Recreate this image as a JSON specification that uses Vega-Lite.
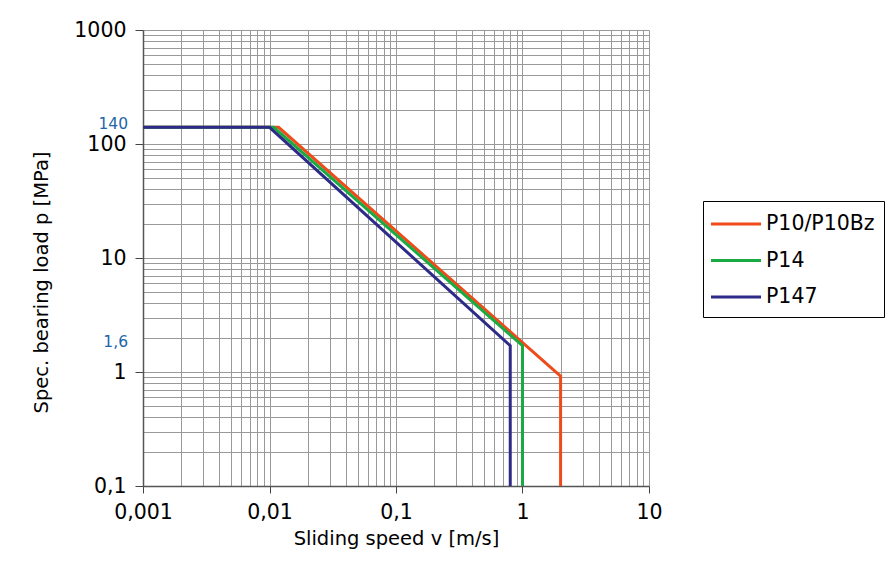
{
  "$schema": "https://vega.github.io/schema/vega-lite/v6.json",
  "width": 506,
  "height": 456,
  "autosize": "none",
  "padding": {"left": 143, "top": 30, "right": 240, "bottom": 81},
  "background": "white",
  "config": {
    "font": "DejaVu Sans",
    "view": {"stroke": null}
  },
  "datasets": {
    "lines": [
      {"series": "P10/P10Bz", "i": 0, "v": 0.001, "p": 140},
      {"series": "P10/P10Bz", "i": 1, "v": 0.0118, "p": 140},
      {"series": "P10/P10Bz", "i": 2, "v": 2, "p": 0.92},
      {"series": "P10/P10Bz", "i": 3, "v": 2, "p": 0.1},
      {"series": "P14", "i": 0, "v": 0.001, "p": 140},
      {"series": "P14", "i": 1, "v": 0.0108, "p": 140},
      {"series": "P14", "i": 2, "v": 1, "p": 1.7},
      {"series": "P14", "i": 3, "v": 1, "p": 0.1},
      {"series": "P147", "i": 0, "v": 0.001, "p": 140},
      {"series": "P147", "i": 1, "v": 0.01, "p": 140},
      {"series": "P147", "i": 2, "v": 0.8, "p": 1.7},
      {"series": "P147", "i": 3, "v": 0.8, "p": 0.1}
    ],
    "note140": [
      {"v": 0.001, "p": 140, "label": "140"}
    ],
    "note16": [
      {"v": 0.001, "p": 1.6, "label": "1,6"}
    ]
  },
  "layer": [
    {
      "data": {"name": "lines"},
      "mark": {"type": "line", "strokeWidth": 3, "strokeCap": "butt", "strokeJoin": "miter"},
      "encoding": {
        "x": {
          "field": "v",
          "type": "quantitative",
          "scale": {"type": "log", "domain": [0.001, 10], "nice": false},
          "axis": {
            "values": [0.001, 0.002, 0.003, 0.004, 0.005, 0.006, 0.007, 0.008, 0.009, 0.01, 0.02, 0.03, 0.04, 0.05, 0.06, 0.07, 0.08, 0.09, 0.1, 0.2, 0.3, 0.4, 0.5, 0.6, 0.7, 0.8, 0.9, 1, 2, 3, 4, 5, 6, 7, 8, 9, 10],
            "grid": true,
            "gridColor": "#999999",
            "gridWidth": 1,
            "labelExpr": "abs(log(datum.value)/LN10 - round(log(datum.value)/LN10)) < 0.001 ? replace(toString(datum.value), '.', ',') : ''",
            "labelOverlap": false,
            "labelFlush": false,
            "labelFontSize": 20.5,
            "labelColor": "black",
            "labelPadding": 9,
            "tickSize": 7,
            "tickColor": {"condition": {"test": "abs(log(datum.value)/LN10 - round(log(datum.value)/LN10)) < 0.001", "value": "#444444"}, "value": "transparent"},
            "domainColor": "#555555",
            "domainWidth": 1.5,
            "title": "Sliding speed v [m/s]",
            "titleFontSize": 19.5,
            "titleFontWeight": "normal",
            "titleColor": "black",
            "titlePadding": 7
          }
        },
        "y": {
          "field": "p",
          "type": "quantitative",
          "scale": {"type": "log", "domain": [0.1, 1000], "nice": false},
          "axis": {
            "values": [0.1, 0.2, 0.3, 0.4, 0.5, 0.6, 0.7, 0.8, 0.9, 1, 2, 3, 4, 5, 6, 7, 8, 9, 10, 20, 30, 40, 50, 60, 70, 80, 90, 100, 200, 300, 400, 500, 600, 700, 800, 900, 1000],
            "grid": true,
            "gridColor": "#999999",
            "gridWidth": 1,
            "labelExpr": "abs(log(datum.value)/LN10 - round(log(datum.value)/LN10)) < 0.001 ? replace(toString(datum.value), '.', ',') : ''",
            "labelOverlap": false,
            "labelFlush": false,
            "labelFontSize": 20.5,
            "labelColor": "black",
            "labelPadding": 9,
            "tickSize": 8,
            "tickColor": {"condition": {"test": "abs(log(datum.value)/LN10 - round(log(datum.value)/LN10)) < 0.001", "value": "#444444"}, "value": "transparent"},
            "domainColor": "#555555",
            "domainWidth": 1.5,
            "title": "Spec. bearing load p [MPa]",
            "titleFontSize": 19.5,
            "titleFontWeight": "normal",
            "titleColor": "black",
            "titlePadding": 22,
            "titleY": 252
          }
        },
        "color": {
          "field": "series",
          "type": "nominal",
          "scale": {"domain": ["P10/P10Bz", "P14", "P147"], "range": ["#ef4a19", "#19aa42", "#2e2b88"]},
          "legend": {
            "title": null,
            "orient": "none",
            "legendX": 560,
            "legendY": 171,
            "symbolType": "M-1.2,0H2.8",
            "symbolSize": 625,
            "symbolStrokeWidth": 3,
            "labelFontSize": 20.5,
            "labelColor": "black",
            "strokeColor": "black",
            "fillColor": "white",
            "padding": 9,
            "rowPadding": 11.5,
            "labelOffset": 26
          }
        },
        "order": {"field": "i", "type": "quantitative"}
      }
    },
    {
      "data": {"name": "note140"},
      "mark": {"type": "text", "align": "right", "baseline": "middle", "dx": -15, "dy": -3, "fontSize": 15.5, "color": "#2266a8"},
      "encoding": {
        "x": {"field": "v", "type": "quantitative"},
        "y": {"field": "p", "type": "quantitative"},
        "text": {"field": "label"}
      }
    },
    {
      "data": {"name": "note16"},
      "mark": {"type": "text", "align": "right", "baseline": "middle", "dx": -15, "dy": -7, "fontSize": 15.5, "color": "#2266a8"},
      "encoding": {
        "x": {"field": "v", "type": "quantitative"},
        "y": {"field": "p", "type": "quantitative"},
        "text": {"field": "label"}
      }
    }
  ]
}
